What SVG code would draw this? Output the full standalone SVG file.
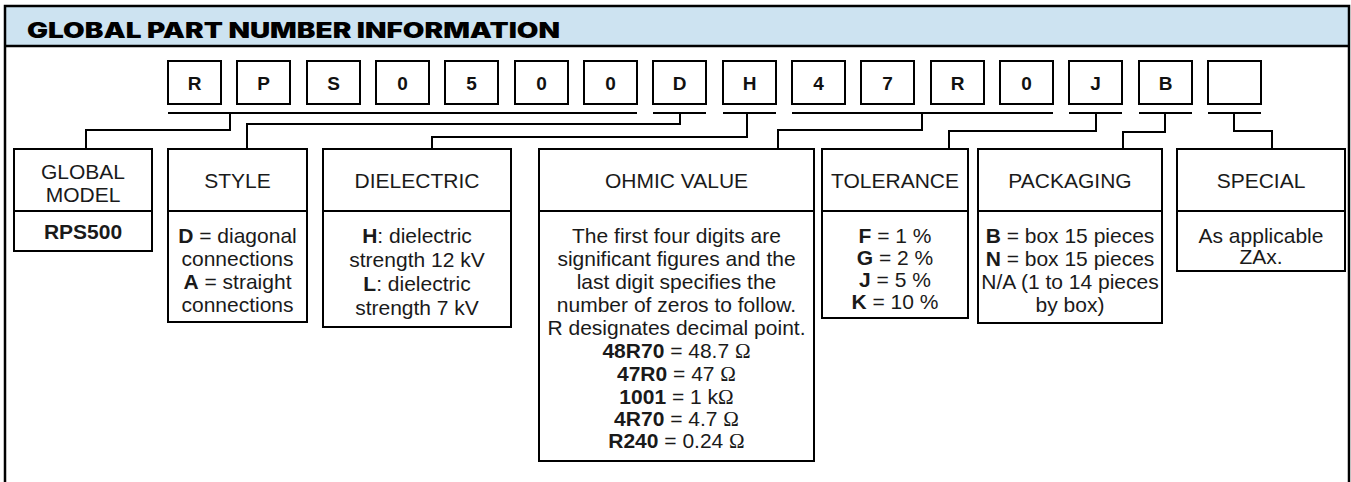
<svg xmlns="http://www.w3.org/2000/svg" width="1351" height="482" viewBox="0 0 1351 482">
<style>
.frame{fill:none;stroke:#000;stroke-width:2.5}
.box{fill:#fff;stroke:#000;stroke-width:2}
.div{stroke:#000;stroke-width:2}
.conn{fill:none;stroke:#000;stroke-width:2}
.ch{font-family:"Liberation Sans",Arial,sans-serif;font-weight:bold;font-size:19px;fill:#111;text-anchor:middle}
.t{font-family:"Liberation Sans",Arial,sans-serif;font-size:21px;fill:#1a1a1a;text-anchor:middle}
.b{font-weight:bold}
.om{font-family:"Liberation Serif","Times New Roman",serif}
.title{font-family:Inter,"Liberation Sans",sans-serif;font-weight:900;font-size:21px;fill:#000}
</style>
<rect x="0" y="0" width="1351" height="482" fill="#fff"/>
<g id="frame">
<rect x="5" y="6" width="1344" height="40" fill="#cde3f1"/>
<rect class="frame" x="5" y="6" width="1344" height="500"/>
<line x1="5" y1="46" x2="1349" y2="46" stroke="#000" stroke-width="2.5"/>
<text class="title" x="27" y="37.5" textLength="533" lengthAdjust="spacingAndGlyphs">GLOBAL PART NUMBER INFORMATION</text>
</g>
<g id="part-number">
<g id="c1"><rect class="box" x="168" y="61" width="53" height="43"/><text class="ch" x="194.5" y="89.5">R</text></g>
<g id="c2"><rect class="box" x="237" y="61" width="53" height="43"/><text class="ch" x="263.5" y="89.5">P</text></g>
<g id="c3"><rect class="box" x="307" y="61" width="53" height="43"/><text class="ch" x="333.5" y="89.5">S</text></g>
<g id="c4"><rect class="box" x="376" y="61" width="53" height="43"/><text class="ch" x="402.5" y="89.5">0</text></g>
<g id="c5"><rect class="box" x="445" y="61" width="53" height="43"/><text class="ch" x="471.5" y="89.5">5</text></g>
<g id="c6"><rect class="box" x="515" y="61" width="53" height="43"/><text class="ch" x="541.5" y="89.5">0</text></g>
<g id="c7"><rect class="box" x="584" y="61" width="53" height="43"/><text class="ch" x="610.5" y="89.5">0</text></g>
<g id="c8"><rect class="box" x="653" y="61" width="53" height="43"/><text class="ch" x="679.5" y="89.5">D</text></g>
<g id="c9"><rect class="box" x="723" y="61" width="53" height="43"/><text class="ch" x="749.5" y="89.5">H</text></g>
<g id="c10"><rect class="box" x="792" y="61" width="53" height="43"/><text class="ch" x="818.5" y="89.5">4</text></g>
<g id="c11"><rect class="box" x="861" y="61" width="53" height="43"/><text class="ch" x="887.5" y="89.5">7</text></g>
<g id="c12"><rect class="box" x="931" y="61" width="53" height="43"/><text class="ch" x="957.5" y="89.5">R</text></g>
<g id="c13"><rect class="box" x="1000" y="61" width="53" height="43"/><text class="ch" x="1026.5" y="89.5">0</text></g>
<g id="c14"><rect class="box" x="1069" y="61" width="53" height="43"/><text class="ch" x="1095.5" y="89.5">J</text></g>
<g id="c15"><rect class="box" x="1139" y="61" width="53" height="43"/><text class="ch" x="1165.5" y="89.5">B</text></g>
<g id="c16"><rect class="box" x="1208" y="61" width="53" height="43"/></g>
</g>
<g id="connectors">
<line class="conn" x1="168" y1="113" x2="637" y2="113"/>
<line class="conn" x1="653" y1="113" x2="706" y2="113"/>
<line class="conn" x1="723" y1="113" x2="776" y2="113"/>
<line class="conn" x1="792" y1="113" x2="1053" y2="113"/>
<line class="conn" x1="1069" y1="113" x2="1122" y2="113"/>
<line class="conn" x1="1139" y1="113" x2="1192" y2="113"/>
<line class="conn" x1="1208" y1="113" x2="1261" y2="113"/>
<polyline class="conn" points="230,113 230,130 86,130 86,149"/>
<polyline class="conn" points="680,113 680,124 247,124 247,149"/>
<polyline class="conn" points="747,113 747,137 432,137 432,149"/>
<polyline class="conn" points="922,113 922,130 778,130 778,149"/>
<polyline class="conn" points="1096,113 1096,131 949,131 949,149"/>
<polyline class="conn" points="1165,113 1165,132 1123,132 1123,149"/>
<polyline class="conn" points="1234,113 1234,131 1272,131 1272,149"/>
</g>
<g id="global-model">
<rect class="box" x="14" y="149" width="138" height="102"/>
<line class="div" x1="14" y1="211" x2="152" y2="211"/>
<text class="t" x="83" y="179">GLOBAL</text>
<text class="t" x="83" y="202">MODEL</text>
<text class="t b" x="83" y="239">RPS500</text>
</g>
<g id="style">
<rect class="box" x="168" y="149" width="139" height="173"/>
<line class="div" x1="168" y1="211" x2="307" y2="211"/>
<text class="t" x="237.5" y="188">STYLE</text>
<text class="t" x="237.5" y="243"><tspan class="b">D</tspan> = diagonal</text>
<text class="t" x="237.5" y="266">connections</text>
<text class="t" x="237.5" y="289"><tspan class="b">A</tspan> = straight</text>
<text class="t" x="237.5" y="312">connections</text>
</g>
<g id="dielectric">
<rect class="box" x="323" y="149" width="188" height="178"/>
<line class="div" x1="323" y1="211" x2="511" y2="211"/>
<text class="t" x="417" y="188">DIELECTRIC</text>
<text class="t" x="417" y="243"><tspan class="b">H</tspan>: dielectric</text>
<text class="t" x="417" y="267">strength 12 kV</text>
<text class="t" x="417" y="291"><tspan class="b">L</tspan>: dielectric</text>
<text class="t" x="417" y="315">strength 7 kV</text>
</g>
<g id="ohmic-value">
<rect class="box" x="539" y="149" width="275" height="312"/>
<line class="div" x1="539" y1="211" x2="814" y2="211"/>
<text class="t" x="676.5" y="188">OHMIC VALUE</text>
<text class="t" x="676.5" y="243">The first four digits are</text>
<text class="t" x="676.5" y="266">significant figures and the</text>
<text class="t" x="676.5" y="289">last digit specifies the</text>
<text class="t" x="676.5" y="312">number of zeros to follow.</text>
<text class="t" x="676.5" y="335">R designates decimal point.</text>
<text class="t" x="676.5" y="358"><tspan class="b">48R70</tspan> = 48.7 <tspan class="om">Ω</tspan></text>
<text class="t" x="676.5" y="381"><tspan class="b">47R0</tspan> = 47 <tspan class="om">Ω</tspan></text>
<text class="t" x="676.5" y="404"><tspan class="b">1001</tspan> = 1 k<tspan class="om">Ω</tspan></text>
<text class="t" x="676.5" y="426"><tspan class="b">4R70</tspan> = 4.7 <tspan class="om">Ω</tspan></text>
<text class="t" x="676.5" y="448"><tspan class="b">R240</tspan> = 0.24 <tspan class="om">Ω</tspan></text>
</g>
<g id="tolerance">
<rect class="box" x="822" y="149" width="146" height="169"/>
<line class="div" x1="822" y1="211" x2="968" y2="211"/>
<text class="t" x="895" y="188">TOLERANCE</text>
<text class="t" x="895" y="243"><tspan class="b">F</tspan> = 1 %</text>
<text class="t" x="895" y="265"><tspan class="b">G</tspan> = 2 %</text>
<text class="t" x="895" y="287"><tspan class="b">J</tspan> = 5 %</text>
<text class="t" x="895" y="309"><tspan class="b">K</tspan> = 10 %</text>
</g>
<g id="packaging">
<rect class="box" x="978" y="149" width="184" height="174"/>
<line class="div" x1="978" y1="211" x2="1162" y2="211"/>
<text class="t" x="1070" y="188">PACKAGING</text>
<text class="t" x="1070" y="243"><tspan class="b">B</tspan> = box 15 pieces</text>
<text class="t" x="1070" y="266"><tspan class="b">N</tspan> = box 15 pieces</text>
<text class="t" x="1070" y="289">N/A (1 to 14 pieces</text>
<text class="t" x="1070" y="312">by box)</text>
</g>
<g id="special">
<rect class="box" x="1177" y="149" width="168" height="122"/>
<line class="div" x1="1177" y1="211" x2="1345" y2="211"/>
<text class="t" x="1261" y="188">SPECIAL</text>
<text class="t" x="1261" y="243">As applicable</text>
<text class="t" x="1261" y="264">ZAx.</text>
</g>
</svg>
